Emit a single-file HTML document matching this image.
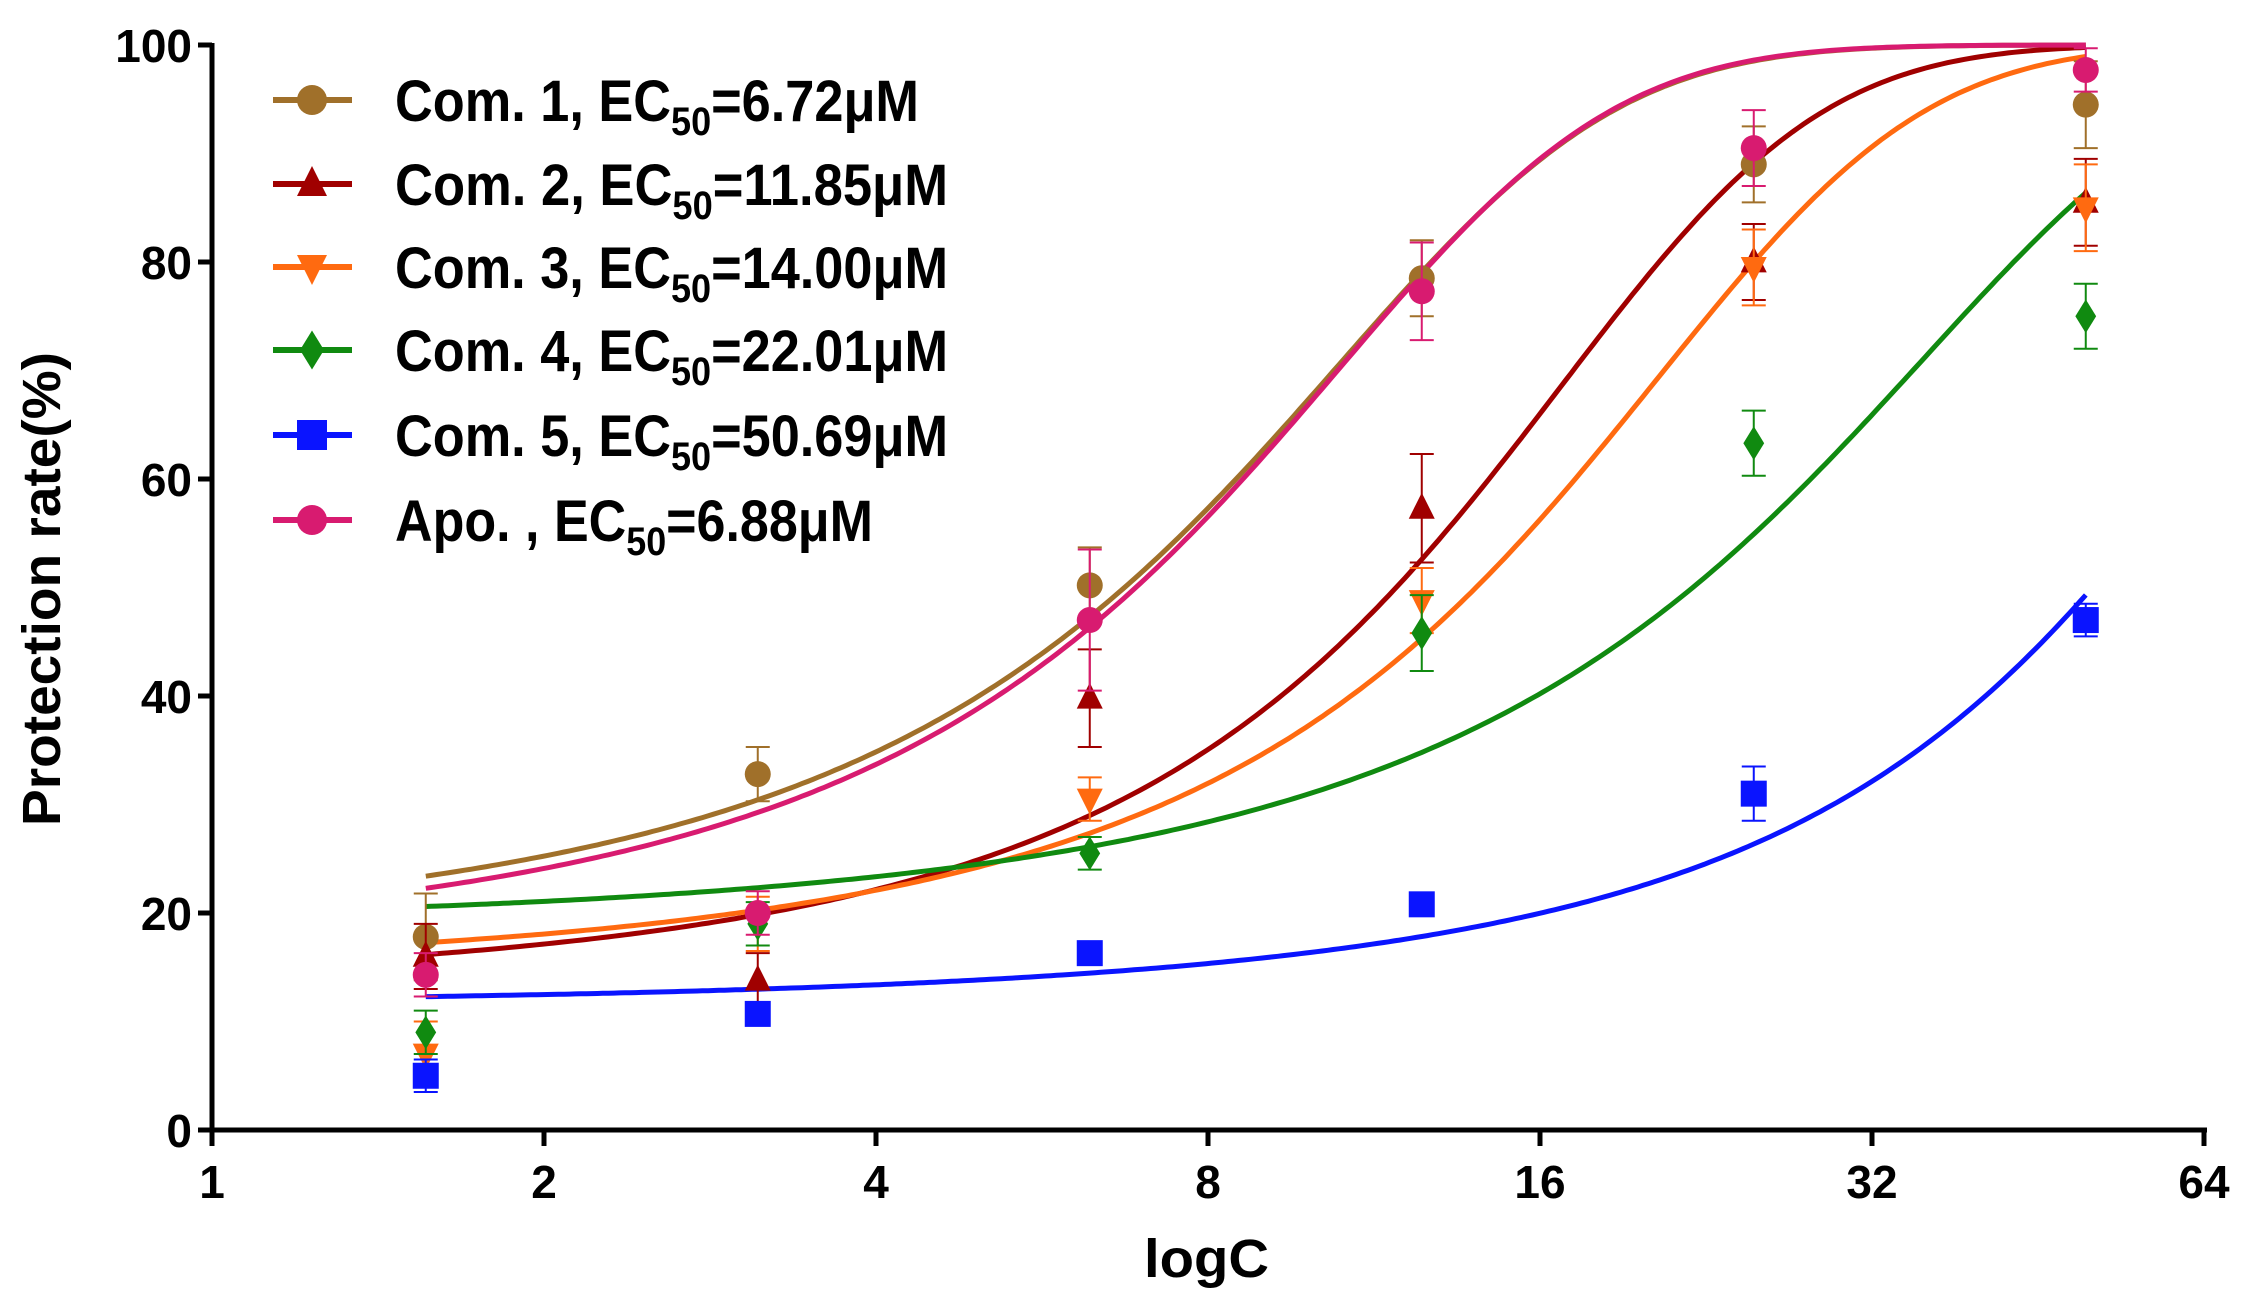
<!DOCTYPE html>
<html><head><meta charset="utf-8"><style>
body{margin:0;background:#fff}
svg{display:block;font-family:"Liberation Sans",Arial,sans-serif;font-weight:bold}
</style></head><body>
<svg id="chart" width="2252" height="1297" viewBox="0 0 2252 1297" xmlns="http://www.w3.org/2000/svg">
</svg>
<script>
const concentrations=[1.5625,3.125,6.25,12.5,25,50];
const xTicks=[1,2,4,8,16,32,64];
const yTicks=[0,20,40,60,80,100];
const seriesNames=["Com. 1","Com. 2","Com. 3","Com. 4","Com. 5","Apo. "];
const ec50Labels=["6.72","11.85","14.00","22.01","50.69","6.88"];
const com1=[17.8,32.8,50.2,78.5,89,94.5];
const com2=[16,13.8,39.8,57.3,80,85.5];
const com3=[7,19,30.5,48.8,79.5,85];
const com4=[9,19,25.5,45.8,63.3,75];
const com5=[5,10.7,16.3,20.8,31,47];
const apo=[14.3,20,47,77.3,90.5,97.7];
const errors1=[4,2.5,3.5,3.5,3.5,4];
const errors2=[3,2.5,4.5,5,3.5,4];
const errors3=[3,2.5,2,3,3.5,4];
const errors4=[2,2,1.5,3.5,3,3];
const errors5=[1.5,1,1,1,2.5,1.5];
const errors6=[2,2,6.5,4.5,3.5,2];
// fit: 100/(1+exp(-slope*(c-EC50)))
const fitEC=[6.72,11.85,14.00,22.01,50.69,6.88];
const fitSlope=[0.23,0.16,0.126,0.066,0.04,0.235];

const colors=["#a0702a","#a00000","#ff6a10","#108a10","#0a14ff","#d81b70"];
const shapes=["circle","tri","itri","diamond","square","circle"];
const data=[com1,com2,com3,com4,com5,apo];
const errs=[errors1,errors2,errors3,errors4,errors5,errors6];
const legendWidths=[524,553,553,553,553,478];

const X0=212,X1=2204,Y0=1130,Y100=45;
const xs=v=>X0+Math.log2(v)/6*(X1-X0);
const ys=v=>Y0-(v/100)*(Y0-Y100);
const svg=document.getElementById('chart');
const NS="http://www.w3.org/2000/svg";
function mk(tag,attrs,parent){const e=document.createElementNS(NS,tag);for(const k in attrs)e.setAttribute(k,attrs[k]);(parent||svg).appendChild(e);return e;}
function marker(shape,cx,cy,s,color,parent){
  if(shape==="circle")return mk('circle',{cx,cy,r:s,fill:color},parent);
  if(shape==="square")return mk('rect',{x:cx-s,y:cy-s,width:2*s,height:2*s,fill:color},parent);
  if(shape==="tri")return mk('polygon',{points:`${cx},${cy-s*1.2} ${cx+s},${cy+s*0.8} ${cx-s},${cy+s*0.8}`,fill:color},parent);
  if(shape==="itri")return mk('polygon',{points:`${cx},${cy+s*1.2} ${cx+s},${cy-s*0.8} ${cx-s},${cy-s*0.8}`,fill:color},parent);
  return mk('polygon',{points:`${cx},${cy-s*1.3} ${cx+s*0.8},${cy} ${cx},${cy+s*1.3} ${cx-s*0.8},${cy}`,fill:color},parent);
}

let ax=mk('g',{});


mk('line',{x1:X0,y1:Y100-2,x2:X0,y2:Y0+3,stroke:'#000','stroke-width':5},ax);
mk('line',{x1:X0-3,y1:Y0,x2:X1+3,y2:Y0,stroke:'#000','stroke-width':5},ax);
yTicks.forEach(t=>{
  mk('line',{x1:X0-14,y1:ys(t),x2:X0,y2:ys(t),stroke:'#000','stroke-width':5},ax);
  const tx=mk('text',{x:X0-20,y:ys(t)+17,'text-anchor':'end','font-size':46},ax);
  
  
  tx.textContent=t;
});
xTicks.forEach(t=>{
  mk('line',{x1:xs(t),y1:Y0,x2:xs(t),y2:Y0+16,stroke:'#000','stroke-width':5},ax);
  const tx=mk('text',{x:xs(t),y:Y0+68,'text-anchor':'middle','font-size':46},ax);
  
  
  tx.textContent=t;
});
let xt=mk('text',{x:1144,y:1277,'font-size':54,textLength:125,lengthAdjust:'spacingAndGlyphs'});


xt.textContent='logC';
let yt=mk('text',{x:-237,y:0,'font-size':54,textLength:474,lengthAdjust:'spacingAndGlyphs',transform:'translate(60,589) rotate(-90)'});


yt.textContent='Protection rate(%)';

for(let i=0;i<6;i++){
  let d='';
  const l0=Math.log2(concentrations[0]),l1=Math.log2(concentrations[5]);
  for(let k=0;k<=300;k++){
    const c=Math.pow(2,l0+(l1-l0)*k/300);
    const v=100/(1+Math.exp(-fitSlope[i]*(c-fitEC[i])));
    d+=(k?'L':'M')+xs(c).toFixed(1)+','+ys(v).toFixed(1);
  }
  const p=mk('path',{d,fill:'none',stroke:colors[i],'stroke-width':5});
  
  
}
for(let i=0;i<6;i++){
  const g=mk('g',{});
  
  
  data[i].forEach((v,j)=>{
    const cx=xs(concentrations[j]),e=errs[i][j];
    mk('line',{x1:cx,y1:ys(v-e),x2:cx,y2:ys(v+e),stroke:colors[i],'stroke-width':2},g);
    mk('line',{x1:cx-12,y1:ys(v+e),x2:cx+12,y2:ys(v+e),stroke:colors[i],'stroke-width':2},g);
    mk('line',{x1:cx-12,y1:ys(v-e),x2:cx+12,y2:ys(v-e),stroke:colors[i],'stroke-width':2},g);
    const m=marker(shapes[i],cx,ys(v),13,colors[i],g);
    
    
  });
}
const legendY=[100,184,267,350,435,520];
for(let i=0;i<6;i++){
  const g=mk('g',{});
  
  
  mk('line',{x1:273,y1:legendY[i],x2:352,y2:legendY[i],stroke:colors[i],'stroke-width':6},g);
  marker(shapes[i],312,legendY[i],15,colors[i],g);
  const t=mk('text',{x:395,y:legendY[i]+21,'font-size':58,textLength:legendWidths[i],lengthAdjust:'spacingAndGlyphs'},g);
  t.innerHTML=seriesNames[i]+', EC<tspan font-size="40" dy="14">50</tspan><tspan dy="-14">='+ec50Labels[i]+'\u03bcM</tspan>';
}
</script>
</body></html>
